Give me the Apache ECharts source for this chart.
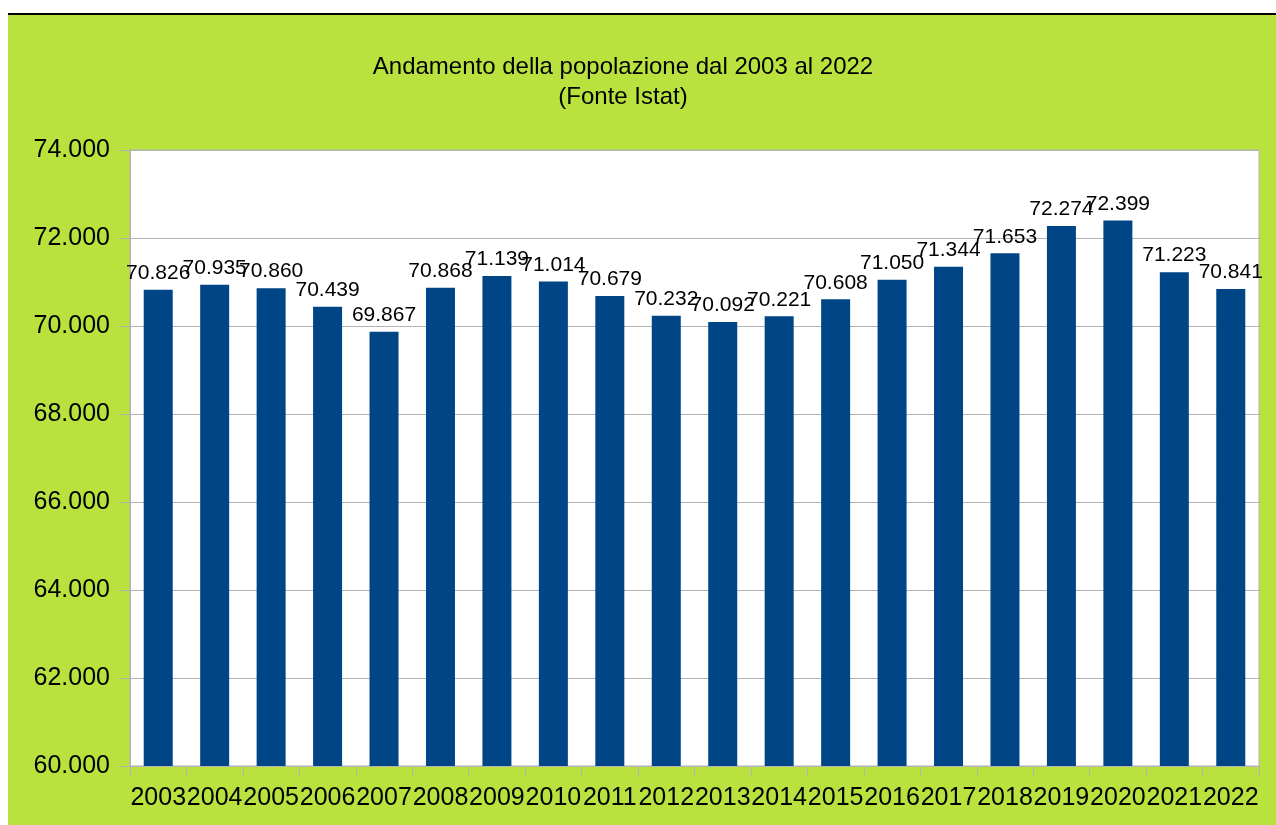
<!DOCTYPE html>
<html>
<head>
<meta charset="utf-8">
<script src="https://cdn.jsdelivr.net/npm/echarts@6/dist/echarts.min.js"></script>
<style>
html,body{margin:0;padding:0;background:#fff;width:1276px;height:825px;overflow:hidden;}
#topline{position:absolute;left:8px;top:13px;width:1268px;height:2px;background:#000;}
#chart{position:absolute;left:8px;top:15px;width:1268px;height:810px;background:#b9e23f;}
</style>
</head>
<body>
<div id="topline"></div>
<div id="chart"></div>
<script>
const years = ['2003','2004','2005','2006','2007','2008','2009','2010','2011','2012','2013','2014','2015','2016','2017','2018','2019','2020','2021','2022'];
const population = [70826,70935,70860,70439,69867,70868,71139,71014,70679,70232,70092,70221,70608,71050,71344,71653,72274,72399,71223,70841];
const titleLines = ['Andamento della popolazione dal 2003 al 2022','(Fonte Istat)'];
const yMin = 60000, yMax = 74000, yStep = 2000;

function fmt(v){ return String(Math.round(v)).replace(/\B(?=(\d{3})+(?!\d))/g,'.'); }

const chart = echarts.init(document.getElementById('chart'), null, {renderer:'canvas'});
const font = 'Liberation Sans';
chart.setOption({
  backgroundColor:'#b9e23f',
  animation:false,
  graphic: titleLines.map((t,i)=>({
    type:'text', x:615, y:52+i*30, z:10,
    style:{text:t, font:'24px "Liberation Sans"', fill:'#000', align:'center', verticalAlign:'middle'}
  })),
  grid:{left:122,right:17,top:135,bottom:59,show:true,backgroundColor:'#fff',borderColor:'#b3b3b3',borderWidth:1},
  xAxis:{
    type:'category', data:years,
    axisLine:{lineStyle:{color:'#b3b3b3',width:1}},
    axisTick:{show:true,length:11,lineStyle:{color:'#b3b3b3'}},
    axisLabel:{fontFamily:font,fontSize:25,color:'#000',margin:20,interval:0}
  },
  yAxis:{
    type:'value', min:yMin, max:yMax, interval:yStep,
    axisLine:{show:true,lineStyle:{color:'#b3b3b3'}},
    axisTick:{show:true,length:11,lineStyle:{color:'#b3b3b3'}},
    splitLine:{lineStyle:{color:'#b3b3b3',width:1}},
    axisLabel:{fontFamily:font,fontSize:25,color:'#000',margin:20,formatter:fmt}
  },
  series:[{
    type:'bar', data:population, barWidth:29,
    itemStyle:{color:'#004586'},
    label:{show:true,position:'top',distance:6,fontFamily:font,fontSize:21,color:'#000',formatter:p=>fmt(p.value)}
  }]
});
</script>
</body>
</html>
